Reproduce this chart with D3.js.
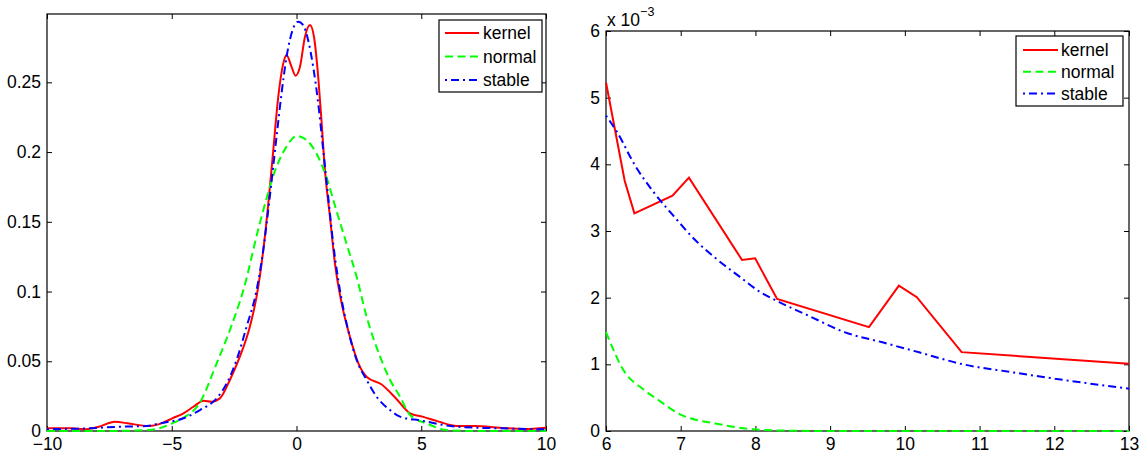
<!DOCTYPE html>
<html>
<head>
<meta charset="utf-8">
<script src="https://cdn.jsdelivr.net/npm/d3@7"></script>
<style>
  body { margin: 0; background: #fff; }
  svg { display: block; font-family: "Liberation Sans", Arial, Helvetica, sans-serif; }
</style>
</head>
<body>
<svg id="chart"></svg>
<script>
// Chart size
const width = 1147;
const height = 457;

// ---- data: left panel (whole density) ----
const seriesNames = ["kernel", "normal", "stable"];

const leftXTicks = [-10, -5, 0, 5, 10];
const leftYTicks = [0, 0.05, 0.1, 0.15, 0.2, 0.25];

const leftKernel = [
  [-10, 0.0019], [-9.07, 0.0019], [-8.5, 0.0012], [-7.92, 0.0031], [-7.28, 0.0067],
  [-6.77, 0.0055], [-5.91, 0.0036], [-5.34, 0.006], [-4.98, 0.0091], [-4.53, 0.0127],
  [-4.13, 0.0174], [-3.73, 0.0217], [-3.4, 0.021], [-3.07, 0.0234], [-2.67, 0.0366],
  [-2.27, 0.0533], [-1.87, 0.0748], [-1.6, 0.0963], [-1.33, 0.1298], [-1.13, 0.163],
  [-0.93, 0.2015], [-0.73, 0.2397], [-0.53, 0.2636], [-0.4, 0.2696], [-0.2, 0.2612],
  [-0.04, 0.2548], [0.14, 0.2612], [0.34, 0.2827], [0.54, 0.2911], [0.7, 0.2827],
  [0.87, 0.254], [1.0, 0.223], [1.14, 0.187], [1.34, 0.1537], [1.54, 0.1202],
  [1.81, 0.0915], [2.14, 0.0676], [2.48, 0.0485], [2.83, 0.0385], [3.4, 0.0335],
  [3.98, 0.0235], [4.55, 0.0127], [5.05, 0.0103], [5.7, 0.0067], [6.42, 0.0036],
  [7.13, 0.0036], [8.14, 0.0024], [9.14, 0.0014], [10, 0.0024]
];

const leftNormal = [
  [-10, 0], [-7.6, 0], [-5.91, 0.0007], [-4.98, 0.0055], [-4.53, 0.0095],
  [-3.9, 0.0195], [-3.2, 0.0485], [-2.67, 0.0724], [-2.13, 0.101], [-1.47, 0.149],
  [-0.8, 0.1895], [-0.4, 0.2039], [0.0, 0.2115], [0.4, 0.2086], [0.8, 0.199],
  [1.2, 0.182], [1.6, 0.158], [2.0, 0.1346], [2.41, 0.1106], [2.81, 0.082],
  [3.35, 0.0533], [3.75, 0.0366], [4.15, 0.0246], [4.55, 0.0115], [5.27, 0.005],
  [6.0, 0.0007], [7.0, 0], [10, 0]
];

const leftStable = [
  [-10, 0.0014], [-8.5, 0.0018], [-7.06, 0.0031], [-6.0, 0.0036], [-5.47, 0.0055],
  [-4.53, 0.0091], [-3.87, 0.015], [-3.2, 0.0234], [-2.8, 0.034], [-2.4, 0.051],
  [-2.0, 0.0748], [-1.6, 0.101], [-1.33, 0.13], [-1.07, 0.168], [-0.8, 0.211],
  [-0.6, 0.242], [-0.4, 0.268], [-0.2, 0.285], [0.07, 0.2935], [0.27, 0.291],
  [0.47, 0.28], [0.67, 0.261], [0.87, 0.235], [1.07, 0.2015], [1.27, 0.168],
  [1.47, 0.1346], [1.74, 0.101], [2.07, 0.0724], [2.41, 0.051], [2.81, 0.0366],
  [3.21, 0.0246], [3.75, 0.015], [4.15, 0.0103], [4.98, 0.0075], [6.42, 0.0031],
  [8.14, 0.0019], [10, 0.0012]
];

// ---- data: right panel (tail, values x 10^-3) ----
const rightXTicks = [6, 7, 8, 9, 10, 11, 12, 13];
const rightYTicks = [0, 1, 2, 3, 4, 5, 6];

const rightKernel = [
  [6.0, 5.227], [6.25, 3.754], [6.38, 3.265], [6.89, 3.53], [7.11, 3.8],
  [7.82, 2.566], [7.996, 2.59], [8.29, 1.98], [9.52, 1.558], [9.92, 2.18],
  [10.16, 2.007], [10.76, 1.183], [13, 1.008]
];

const rightNormal = [
  [6.0, 1.483], [6.25, 0.884], [6.49, 0.634], [6.74, 0.434], [6.99, 0.25],
  [7.23, 0.16], [7.48, 0.11], [7.72, 0.06], [7.97, 0.025], [8.46, 0.005],
  [8.96, 0], [13, 0]
];

const rightStable = [
  [6.0, 4.73], [6.15, 4.48], [6.39, 3.98], [6.64, 3.58], [6.94, 3.18],
  [7.18, 2.88], [7.48, 2.58], [7.77, 2.33], [8.07, 2.08], [8.27, 1.96],
  [8.71, 1.73], [9.2, 1.48], [9.7, 1.33], [10.19, 1.18], [10.78, 1.0],
  [11.42, 0.884], [12.01, 0.784], [13, 0.634]
];

// Line styles
const styles = {
  kernel: { color: "#ff0000", dash: null },
  normal: { color: "#00ff00", dash: "8,4.5" },
  stable: { color: "#0000ff", dash: "2,4,8,4" }
};

const svg = d3.select("#chart")
  .attr("width", width)
  .attr("height", height);

const fontSize = 17.5;
const minus = s => String(s).replace("-", "\u2212");

function drawPanel(p) {
  const w = p.right - p.left;
  const h = p.bottom - p.top;

  const x = d3.scaleLinear().domain(p.xDomain).range([0, w]);
  const y = d3.scaleLinear().domain(p.yDomain).range([h, 0]);

  const g = svg.append("g").attr("transform", `translate(${p.left},${p.top})`);

  // axes with inward ticks on all four sides
  const bottom = g.append("g")
    .attr("transform", `translate(0,${h})`)
    .call(d3.axisBottom(x).tickValues(p.xTicks).tickSizeInner(-5).tickSizeOuter(0)
      .tickPadding(7).tickFormat(minus));
  const left = g.append("g")
    .call(d3.axisLeft(y).tickValues(p.yTicks).tickSizeInner(-5).tickSizeOuter(0)
      .tickPadding(6).tickFormat(d => String(d)));
  g.append("g")
    .call(d3.axisTop(x).tickValues(p.xTicks).tickSizeInner(-5).tickSizeOuter(0).tickFormat(""));
  g.append("g")
    .attr("transform", `translate(${w},0)`)
    .call(d3.axisRight(y).tickValues(p.yTicks).tickSizeInner(-5).tickSizeOuter(0).tickFormat(""));

  g.selectAll(".domain").remove();
  g.selectAll(".tick line").attr("stroke", "#000");
  [bottom, left].forEach(a => a.attr("font-size", fontSize)
    .attr("font-family", "Liberation Sans, Arial, Helvetica, sans-serif"));
  g.selectAll(".tick text").attr("fill", "#000");

  // box
  g.append("rect")
    .attr("x", 0).attr("y", 0)
    .attr("width", w).attr("height", h)
    .attr("fill", "none")
    .attr("stroke", "#000")
    .attr("stroke-width", 1.2);

  // curves
  p.series.forEach((data, i) => {
    const st = styles[seriesNames[i]];
    const line = d3.line()
      .x(d => x(d[0]))
      .y(d => y(d[1]))
      .curve(p.curves[i]);
    g.append("path")
      .datum(data)
      .attr("d", line)
      .attr("fill", "none")
      .attr("stroke", st.color)
      .attr("stroke-width", 2)
      .attr("stroke-dasharray", st.dash);
  });

  // legend
  const L = p.legend;
  const lg = g.append("g").attr("transform", `translate(${L.x},${L.y})`);
  lg.append("rect")
    .attr("width", L.w).attr("height", L.h)
    .attr("fill", "#fff").attr("stroke", "#000").attr("stroke-width", 1.2);
  seriesNames.forEach((name, i) => {
    const cy = L.row0 + i * L.rowH;
    const st = styles[name];
    lg.append("line")
      .attr("x1", L.lineX0).attr("x2", L.lineX1)
      .attr("y1", cy).attr("y2", cy)
      .attr("stroke", st.color)
      .attr("stroke-width", 2)
      .attr("stroke-dasharray", st.dash);
    lg.append("text")
      .attr("x", L.textX).attr("y", cy)
      .attr("dy", "0.35em")
      .attr("font-size", fontSize)
      .text(name);
  });

  return g;
}

drawPanel({
  left: 47, right: 546, top: 14, bottom: 431,
  xDomain: [-10, 10], yDomain: [0, 0.299],
  xTicks: leftXTicks, yTicks: leftYTicks,
  series: [leftKernel, leftNormal, leftStable],
  curves: [d3.curveMonotoneX, d3.curveMonotoneX, d3.curveMonotoneX],
  legend: { x: 392, y: 6, w: 103, h: 72, row0: 13, rowH: 23.5, lineX0: 6, lineX1: 40, textX: 44 }
});

const right = drawPanel({
  left: 606, right: 1129, top: 31, bottom: 431,
  xDomain: [6, 13], yDomain: [0, 6],
  xTicks: rightXTicks, yTicks: rightYTicks,
  series: [rightKernel, rightNormal, rightStable],
  curves: [d3.curveLinear, d3.curveMonotoneX, d3.curveMonotoneX],
  legend: { x: 410, y: 5, w: 107, h: 70, row0: 14, rowH: 21.7, lineX0: 7, lineX1: 42, textX: 45 }
});

// exponent label
const expo = right.append("text")
  .attr("x", 1).attr("y", -5)
  .attr("font-size", fontSize);
expo.append("tspan").text("x 10");
expo.append("tspan")
  .attr("font-size", 12.5)
  .attr("dy", -10)
  .text("\u22123");
</script>
</body>
</html>
